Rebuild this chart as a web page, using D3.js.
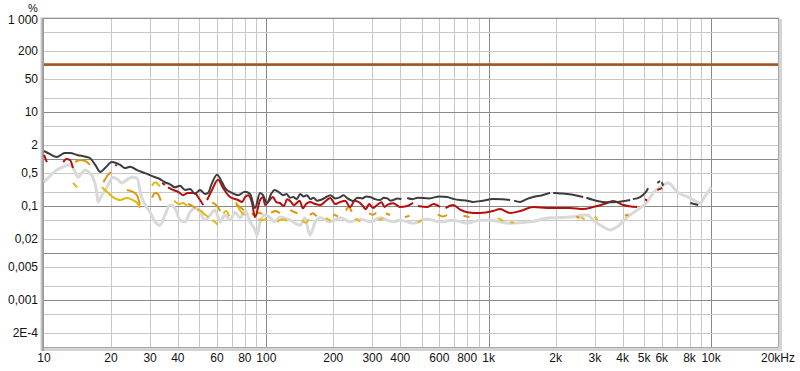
<!DOCTYPE html>
<html>
<head>
<meta charset="utf-8">
<script src="https://cdn.jsdelivr.net/npm/d3@7"></script>
<style>
  body { margin: 0; background: #fff; }
  svg { display: block; font-family: "Liberation Sans", Arial, sans-serif; }
</style>
</head>
<body>
<div id="chart"></div>
<script>
// frequency (Hz), distortion (%); null = gap in the trace
var thd = [[10,1.48],[10.6,1.28],[11.4,1.1],[12.4,1.34],[13.1,1.34],[14.1,1.22],[15.6,1.1],[16.1,1.05],[17,0.75],[17.9,0.53],[18.8,0.64],[20.2,0.86],[22,0.75],[23.1,0.64],[24.4,0.68],[26.2,0.58],[28.5,0.5],[31.6,0.41],[33,0.38],[35,0.32],[36.9,0.29],[38.8,0.25],[40.9,0.27],[43.1,0.22],[45.4,0.23],[47.8,0.18],[50.3,0.22],[53,0.18],[54.7,0.19],[57,0.31],[60,0.46],[63.2,0.32],[65.2,0.24],[70.1,0.19],[74.6,0.17],[80.2,0.2],[84.5,0.18],[88.9,0.091],[93.7,0.19],[96.6,0.17],[100.7,0.116],[105,0.18],[109,0.22],[115,0.19],[119,0.17],[123,0.18],[128,0.15],[132,0.155],[137,0.14],[142,0.18],[147,0.16],[152,0.17],[158,0.14],[163,0.15],[169,0.13],[175,0.134],[184,0.15],[194,0.17],[204,0.145],[215,0.155],[222,0.17],[230,0.15],[238,0.135],[245,0.128],[257,0.15],[270,0.145],[282,0.16],[293,0.155],[308,0.14],[325,0.134],[337,0.15],[350,0.145],[362,0.13],[372,0.134],[388,0.145],[405,0.141],null,[430,0.148],[455,0.14],[480,0.15],[540,0.145],[600,0.16],[650,0.155],[700,0.14],[743,0.134],[800,0.13],[851,0.122],[940,0.13],[1047,0.141],[1150,0.14],[1248,0.134],null,[1300,0.13],[1384,0.122],[1480,0.14],[1585,0.155],[1740,0.17],[1888,0.19],null,[1950,0.19],[2100,0.185],[2253,0.18],[2450,0.17],[2661,0.155],null,[2750,0.15],[3076,0.128],[3400,0.12],[3784,0.122],[4325,0.134],null,[4450,0.14],[4797,0.155],[5054,0.19],[5214,0.24],null,[5728,0.31],[5900,0.34],null,[6000,0.32],[6095,0.27],null,[8062,0.116],[8754,0.105]];

var h2 = [[10,1.22],[10.3,0.86],null,[12.2,0.86],[12.6,1.0],[13.1,0.95],[13.5,0.64],null,[20.9,0.75],[21.3,0.72],null,[34,0.31],[35,0.28],null,[36.1,0.25],[38,0.22],[40.1,0.2],[42.2,0.17],[44.4,0.19],[47.8,0.19],[49.3,0.155],[52,0.105],null,[54.1,0.134],[57,0.22],[60.6,0.36],[63.9,0.24],[68.7,0.155],[74.6,0.134],[77.8,0.122],[80.2,0.155],[82.7,0.17],[86.2,0.116],[88.9,0.058],[93.7,0.134],[96.6,0.155],[98.7,0.105],[103,0.13],[107,0.155],[111,0.12],[115,0.116],[120,0.1],[124,0.14],[128,0.128],[133,0.105],[137,0.116],[141,0.13],[146,0.09],[151,0.11],[157,0.122],[166,0.11],[175,0.105],[184,0.125],[194,0.148],[204,0.11],[215,0.122],[226,0.13],[238,0.095],[250,0.13],[264,0.116],[272,0.1],[280,0.085],[290,0.11],[302,0.091],[315,0.105],[330,0.12],[340,0.095],[349,0.105],[372,0.115],[399,0.095],[430,0.1],[457,0.116],null,[480,0.1],[528,0.095],[565,0.11],[604,0.095],null,[640,0.09],[692,0.105],[740,0.085],[800,0.074],[914,0.071],[1047,0.078],[1125,0.086],[1248,0.071],[1384,0.078],[1585,0.095],[1832,0.091],[2031,0.091],[2324,0.091],[2661,0.086],[2951,0.095],[3412,0.116],[3630,0.128],[4027,0.105],[4652,0.095],null,[5054,0.141],[5150,0.13],null,[5728,0.22],[6030,0.24]];

var h3 = [[13.8,0.86],[14.5,0.95],[15.3,0.91],[16.1,0.75],null,[18.5,0.32],[19.2,0.43],[20,0.53],null,[23.6,0.22],[25.1,0.2],[26.2,0.17],[27,0.105],null,[30.6,0.15],[31.6,0.19],[32.5,0.18],[33.5,0.13],null,[44.4,0.11],[46.5,0.1],[48,0.09],null,[57,0.12],[60,0.1],[62,0.078],null,[73,0.11],[76,0.095],[79,0.082],null,[86,0.07],[89,0.062],[92,0.072],[96,0.068],null,[105,0.072],[110,0.078],[115,0.07],null,[128,0.082],[133,0.075],[138,0.07],null,[157,0.064],[162,0.07],[168,0.06],null,[200,0.066],[210,0.06],null,[228,0.08],[235,0.095],[242,0.075],null,[290,0.07],[300,0.065],[312,0.072],null,[345,0.07],[360,0.064],null,[420,0.058],[440,0.062],null,[590,0.066],[620,0.06],[650,0.064],null,[770,0.062],[820,0.058],null,[2480,0.06],[2560,0.055],null,[4100,0.062],[4250,0.066]];

var h4 = [[13.5,0.31],[14.1,0.25],null,[18.2,0.25],[19.2,0.2],[20.4,0.155],[22,0.134],[23.6,0.148],[25.1,0.134],[26.2,0.116],[27,0.091],null,[30.6,0.27],[31.6,0.32],[33.2,0.26],null,[38.5,0.13],[40.5,0.11],[42.2,0.116],[44,0.1],null,[49,0.085],[51,0.078],[53,0.065],[55,0.058],null,[57,0.05],[59,0.045],[60.5,0.04],null,[64,0.07],[66,0.078],[68,0.06],null,[73,0.12],[75,0.09],[78,0.07],[80,0.065],null,[92,0.052],[96,0.05],[100,0.055],null,[112,0.046],[118,0.052],[124,0.048],null,[145,0.05],[150,0.044],[155,0.052],null,[185,0.055],[195,0.048],null,[250,0.053],[265,0.047],null,[320,0.05],[335,0.055],null,[480,0.045],[500,0.05],null,[1100,0.055],[1160,0.048],null,[1250,0.045],[1300,0.044],null,[2600,0.057],[2700,0.052],null,[3000,0.06],[3080,0.05]];

var noise = [[10,0.32],[10.6,0.43],[11.4,0.58],[12.2,0.68],[13.1,0.75],[13.7,0.58],[14.2,0.41],[15.3,0.58],[16.1,0.5],[16.6,0.41],[17.2,0.22],[17.5,0.122],[18.2,0.17],[19.2,0.25],[20.4,0.41],[21.5,0.36],[22.4,0.31],[23.6,0.36],[24.9,0.41],[26.2,0.39],[27.3,0.17],[28.5,0.105],[30,0.074],[31.6,0.046],[33.2,0.039],[35,0.064],[36.9,0.105],[38.8,0.091],[40.9,0.05],[43.1,0.046],[45.4,0.074],[47.8,0.091],[50.3,0.074],[53,0.05],[55.8,0.064],[58.8,0.082],[61.9,0.046],[65.2,0.064],[68.7,0.05],[72.3,0.074],[76.2,0.056],[80.2,0.082],[84.5,0.046],[88.9,0.031],[90.8,0.024],[93.7,0.046],[98.7,0.064],[104,0.056],[109,0.046],[115,0.058],[128,0.05],[142,0.039],[149,0.056],[157,0.024],[166,0.046],[175,0.056],[194,0.046],[215,0.056],[238,0.046],[264,0.053],[293,0.046],[325,0.056],[372,0.046],[399,0.05],[457,0.043],[528,0.053],[604,0.046],[692,0.05],[800,0.043],[914,0.05],[1014,0.05],[1248,0.043],[1535,0.046],[1888,0.056],[2324,0.058],[2773,0.064],[2951,0.05],[3272,0.036],[3516,0.031],[3784,0.036],[4198,0.058],[4652,0.082],[5162,0.122],[5495,0.19],[5908,0.25],[6412,0.31],[7047,0.2],[8062,0.148],[8939,0.116],[9400,0.163],[10000,0.25]];

var limitLevel = 100;

var xTicks = [10,20,30,40,60,80,100,200,300,400,600,800,1000,2000,3000,4000,5000,6000,8000,10000,20000];
var xTickLabels = ["10","20","30","40","60","80","100","200","300","400","600","800","1k","2k","3k","4k","5k","6k","8k","10k","20kHz"];
var yTicks = [1000,200,50,10,2,0.5,0.1,0.02,0.005,0.001,0.0002];
var yTickLabels = ["1 000","200","50","10","2","0,5","0,1","0,02","0,005","0,001","2E-4"];

var width = 800, height = 371;
var plotLeft = 44, plotRight = 778, plotTop = 18, plotBottom = 347;

var svg = d3.select("#chart").append("svg")
  .attr("width", width)
  .attr("height", height);

var x = d3.scaleLog().domain([10, 20000]).range([plotLeft, plotRight]);
var y = d3.scaleLog().domain([0.0001, 1000]).range([plotBottom, plotTop]);

// grid
var xGrid = [];
[10, 100, 1000, 10000].forEach(function(d) {
  for (var k = 1; k < 10; k++) if (d * k <= 20000) xGrid.push(d * k);
});
var yGrid = [];
[0.0001, 0.001, 0.01, 0.1, 1, 10, 100].forEach(function(d) {
  [1, 2, 5].forEach(function(k) { yGrid.push(d * k); });
});

function isDecade(v) {
  var l = Math.log10(v);
  return Math.abs(l - Math.round(l)) < 1e-6;
}

var grid = svg.append("g");
grid.selectAll("line.vx")
  .data(xGrid.filter(function(d) { return d > 10 && d < 20000; }))
  .enter().append("line")
  .attr("x1", function(d) { return Math.round(x(d)) + 0.5; })
  .attr("x2", function(d) { return Math.round(x(d)) + 0.5; })
  .attr("y1", plotTop).attr("y2", plotBottom)
  .style("stroke", function(d) { return isDecade(d) ? "#8a8a8a" : "#c8c8c8"; })
  .style("stroke-width", 1);

grid.selectAll("line.hy")
  .data(yGrid.filter(function(d) { return d > 0.0001 && d < 1000; }))
  .enter().append("line")
  .attr("x1", plotLeft).attr("x2", plotRight)
  .attr("y1", function(d) { return Math.round(y(d)) + 0.5; })
  .attr("y2", function(d) { return Math.round(y(d)) + 0.5; })
  .style("stroke", function(d) { return isDecade(d) ? "#8a8a8a" : "#c8c8c8"; })
  .style("stroke-width", 1);

// frame: thin top line, shaded left edge, light shadow right and bottom
svg.append("rect").attr("x", plotRight).attr("y", plotTop + 1).attr("width", 4).attr("height", plotBottom - plotTop + 3).style("fill", "#d4d4d4");
svg.append("rect").attr("x", plotLeft - 1).attr("y", plotBottom).attr("width", plotRight - plotLeft + 4).attr("height", 4).style("fill", "#d4d4d4");
svg.append("rect").attr("x", plotRight).attr("y", plotTop).attr("width", 1).attr("height", plotBottom - plotTop).style("fill", "#a8a8a8");
svg.append("rect").attr("x", plotLeft).attr("y", plotBottom).attr("width", plotRight - plotLeft).attr("height", 1).style("fill", "#a8a8a8");
svg.append("line").attr("x1", plotLeft - 4).attr("x2", plotRight + 1).attr("y1", plotTop - 0.5).attr("y2", plotTop - 0.5).style("stroke", "#e0e0e0");
svg.append("line").attr("x1", plotLeft - 4).attr("x2", plotRight + 1).attr("y1", plotTop + 0.5).attr("y2", plotTop + 0.5).style("stroke", "#8c8c8c");
[["#e6e6e6", 40], ["#c4c4c4", 41], ["#a8a8a8", 42], ["#989898", 43]].forEach(function(p) {
  svg.append("line").attr("x1", p[1] + 0.5).attr("x2", p[1] + 0.5).attr("y1", plotTop).attr("y2", plotBottom + 4).style("stroke", p[0]);
});

// traces
var line = d3.line()
  .defined(function(d) { return d !== null; })
  .x(function(d) { return x(d[0]); })
  .y(function(d) { return y(d[1]); })
  .curve(d3.curveMonotoneX);

var traces = svg.append("g").attr("fill", "none").style("stroke-linejoin", "round");
traces.append("path").datum(noise).attr("d", line).style("stroke", "#d9d9d9").style("stroke-width", 3);
traces.append("path").datum(h4).attr("d", line).style("stroke", "#e3b80f").style("stroke-width", 2);
traces.append("path").datum(h3).attr("d", line).style("stroke", "#e0940c").style("stroke-width", 2);
traces.append("path").datum(h2).attr("d", line).style("stroke", "#b80d0d").style("stroke-width", 2);
traces.append("path").datum(thd).attr("d", line).style("stroke", "#3c3c3c").style("stroke-width", 2);

traces.append("line")
  .attr("x1", plotLeft).attr("x2", plotRight)
  .attr("y1", y(limitLevel) - 0.5).attr("y2", y(limitLevel) - 0.5)
  .style("stroke", "#a4561c").style("stroke-width", 2.5);

// labels
svg.append("g").selectAll("text")
  .data(yTicks)
  .enter().append("text")
  .attr("x", 38)
  .attr("y", function(d) { return y(d) + (d === 1000 ? 2 : 0); })
  .attr("text-anchor", "end")
  .attr("dominant-baseline", "central")
  .style("font-size", "12px").style("fill", "#111")
  .text(function(d, i) { return yTickLabels[i]; });

svg.append("text").attr("x", 33).attr("y", 8)
  .attr("text-anchor", "middle").attr("dominant-baseline", "central")
  .style("font-size", "11px").style("fill", "#111").text("%");

svg.append("g").selectAll("text")
  .data(xTicks)
  .enter().append("text")
  .attr("x", function(d) { return x(d); })
  .attr("y", 358)
  .attr("text-anchor", "middle")
  .attr("dominant-baseline", "central")
  .style("font-size", "12px").style("fill", "#111")
  .text(function(d, i) { return xTickLabels[i]; });
</script>
</body>
</html>
